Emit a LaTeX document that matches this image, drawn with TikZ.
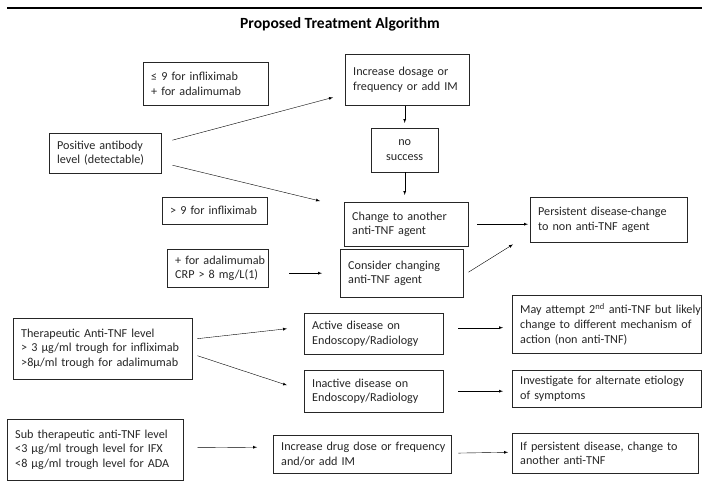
\documentclass[tikz,border=0pt]{standalone}
\usepackage{fontspec}
\setmainfont{Carlito}
\usepackage{tikz}
\tikzset{font=\fontsize{12.2}{14.7}\selectfont}
\tikzset{frame/.style={draw,thin,black!85,text=black!85,anchor=north west,inner xsep=8bp,inner ysep=3bp},
  box/.style={frame,align=left,execute at begin node={\rightskip=0pt plus 1fil minus 60pt\hyphenpenalty=10000}},
  arr/.style={thin,black,-latex}}

\begin{document}
\begin{tikzpicture}[x=1bp,y=-1bp]
      \fill[white] (0,0) rectangle (702,484);
      \coordinate (ruleL) at (7,7.2);
      \coordinate (ruleR) at (702,8.8);
      \fill[black] (ruleL) rectangle (ruleR);
      \node[font=\fontsize{15.6}{18}\selectfont\bfseries] (title) at (340,24) {Proposed Treatment Algorithm};

      % antibody branch
      \node[box,minimum width=125bp,minimum height=43bp,text width=109bp] (lowab) at (143,62) {≤ 9 for infliximab\\+ for adalimumab};
      \node[box,minimum width=112bp,minimum height=40bp,text width=96bp] (posab) at (49,133) {Positive antibody\\level (detectable)};
      \node[box,minimum width=105bp,minimum height=27bp,text width=89bp] (highab) at (162,197) {> 9 for infliximab};
      \node[box,minimum width=124bp,minimum height=51bp,text width=108bp] (incdose) at (345,54) {Increase dosage or\\frequency or add IM};
      \node[frame,minimum width=67bp,minimum height=44bp,text width=51bp,align=center] (nosucc) at (371,128) {no\\success};
      \node[box,minimum width=124bp,minimum height=44bp,text width=108bp] (change) at (344,202) {Change to another\\anti-TNF agent};
      \node[box,minimum width=157bp,minimum height=45bp,text width=141bp] (persist) at (530,197) {Persistent disease-change\\to non anti-TNF agent};
      \node[box,minimum width=101bp,minimum height=38bp,text width=85bp] (crp) at (167,249) {+ for adalimumab\\CRP > 8 mg/L(1)};
      \node[box,minimum width=123bp,minimum height=48bp,text width=107bp] (consider) at (340,249) {Consider changing\\anti-TNF agent};

      % therapeutic level
      \node[box,minimum width=179bp,minimum height=61bp,text width=163bp] (thera) at (13,318) {Therapeutic Anti-TNF level\\> 3 µg/ml trough for infliximab\\>8µ/ml trough for adalimumab};
      \node[box,minimum width=139bp,minimum height=41bp,text width=123bp] (active) at (304,313) {Active disease on\\Endoscopy/Radiology};
      \node[box,minimum width=139bp,minimum height=42bp,text width=123bp] (inactive) at (304,370) {Inactive disease on\\Endoscopy/Radiology};
      \node[box,minimum width=189bp,minimum height=58bp,text width=173bp] (attempt) at (512,295) {May attempt 2\textsuperscript{nd} anti-TNF but likely\\change to different mechanism of\\action (non anti-TNF)};
      \node[box,minimum width=189bp,minimum height=37bp,text width=173bp] (etiology) at (512,370) {Investigate for alternate etiology\\of symptoms};

      % sub therapeutic level
      \node[box,minimum width=176bp,minimum height=61bp,text width=160bp] (subth) at (7,419) {Sub therapeutic anti-TNF level\\<3 µg/ml trough level for IFX\\<8 µg/ml trough level for ADA};
      \node[box,minimum width=178bp,minimum height=38bp,text width=162bp] (incdrug) at (273,435) {Increase drug dose or frequency\\and/or add IM};
      \node[box,minimum width=186bp,minimum height=40bp,text width=170bp] (another) at (512,433) {If persistent disease, change to\\another anti-TNF};

      \draw[arr] ([shift={(11,-13)}]posab.east) -- ([shift={(-12,-8)}]incdose.south west);
      \draw[arr] ([shift={(11,12)}]posab.east) -- ([shift={(-24,-1)}]change.north west);
      \draw[arr,shorten <=1bp,shorten >=5bp] (incdose.south -| nosucc.north) -- (nosucc.north);
      \draw[arr,shorten >=7bp] (nosucc.south) -- (nosucc.south |- change.north);
      \draw[arr,shorten <=9bp,shorten >=2bp] (change.east) -- (change.east -| persist.west);
      \draw[arr,shorten <=21bp,shorten >=18bp] (consider.west -| crp.east) -- (consider.west);
      \draw[arr] ([shift={(5,-1)}]consider.east) -- ([shift={(-17,2)}]persist.south west);
      \draw[arr] ([shift={(5,-10)}]thera.east) -- ([shift={(-17,-5)}]active.west);
      \draw[arr] ([shift={(5,7)}]thera.east) -- ([shift={(-17,-6)}]inactive.west);
      \draw[arr,shorten <=15bp,shorten >=9bp] ([shift={(0,-6)}]active.east) -- ([shift={(0,-6)}]active.east -| attempt.west);
      \draw[arr,shorten <=15bp,shorten >=9bp] (inactive.east) -- (inactive.east -| etiology.west);
      \draw[arr] ([shift={(14,-2)}]subth.east) -- ([shift={(-16,-7)}]incdrug.west);
      \draw[arr,shorten <=7bp,shorten >=4bp] ([shift={(0,-1)}]incdrug.east) -- ([shift={(0,-1)}]another.west);
\end{tikzpicture}
\end{document}
